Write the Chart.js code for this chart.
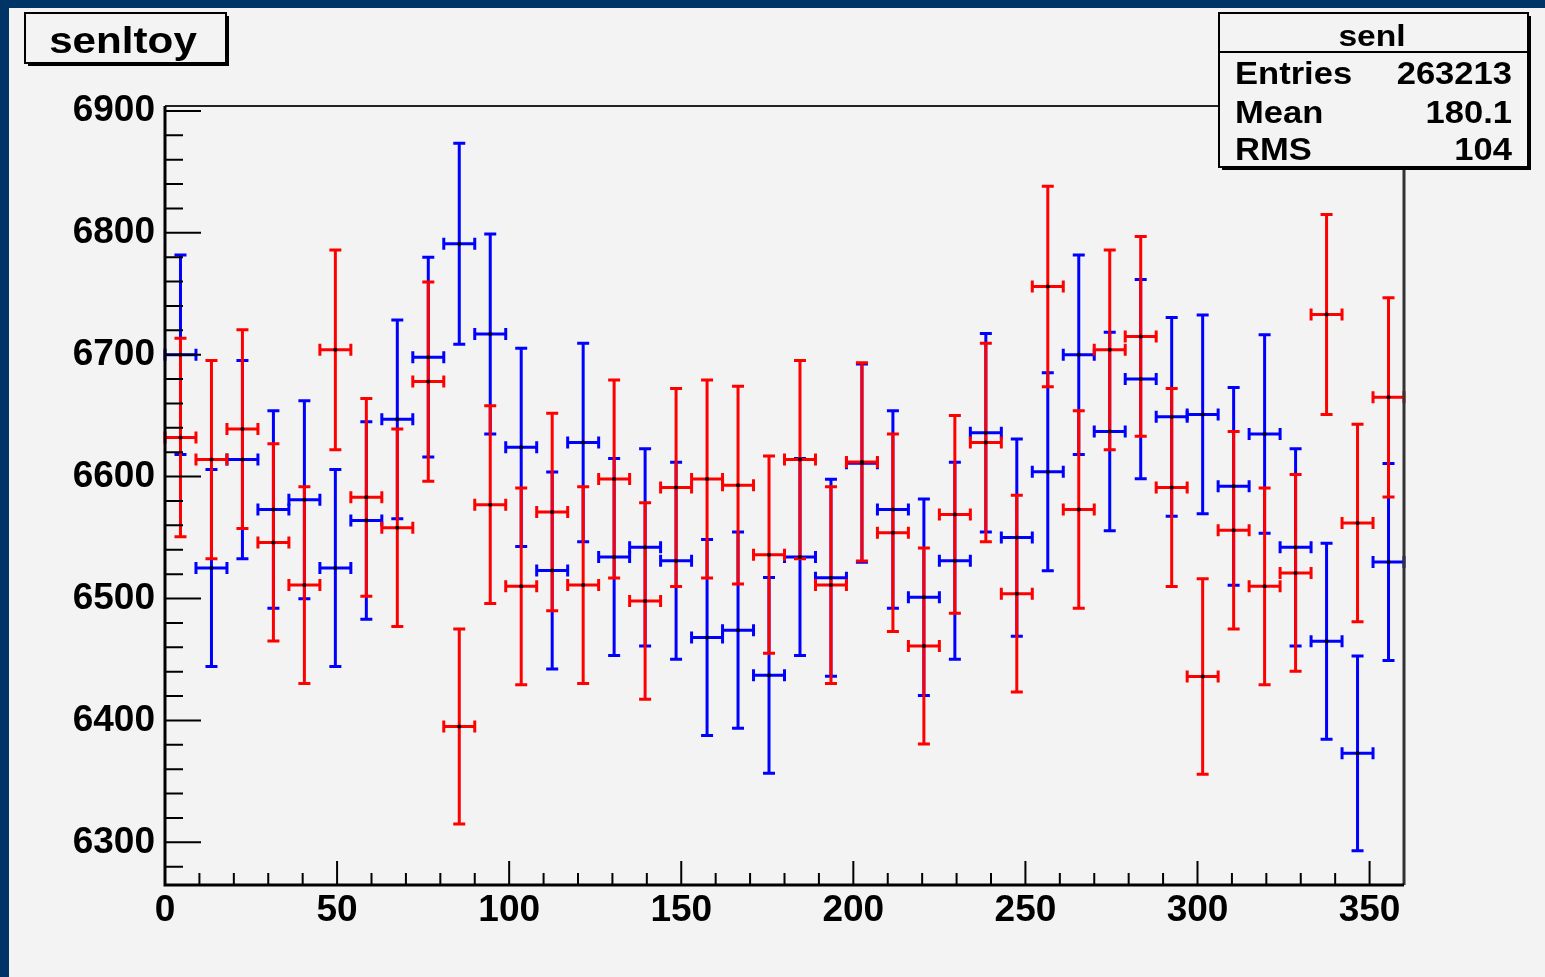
<!DOCTYPE html>
<html>
<head>
<meta charset="utf-8">
<script src="https://cdn.jsdelivr.net/npm/chart.js@4.4.1/dist/chart.umd.min.js"></script>
<style>
  html, body { margin:0; padding:0; background:#003366; overflow:hidden; }
  #wrap { position:absolute; left:0; top:0; width:1545px; height:977px; }
</style>
</head>
<body>
<div id="wrap"><canvas id="senl-plot"></canvas></div>
<script>
'use strict';

// bin centres (40 bins of width 9 from 0 to 360)
const binCenters = [
  4.5, 13.5, 22.5, 31.5, 40.5, 49.5, 58.5, 67.5, 76.5, 85.5,
  94.5, 103.5, 112.5, 121.5, 130.5, 139.5, 148.5, 157.5, 166.5, 175.5,
  184.5, 193.5, 202.5, 211.5, 220.5, 229.5, 238.5, 247.5, 256.5, 265.5,
  274.5, 283.5, 292.5, 301.5, 310.5, 319.5, 328.5, 337.5, 346.5, 355.5
];
const binWidth = 9;

// blue histogram (senl)
const blueCounts = [
  6700, 6525, 6614, 6573, 6581, 6525, 6564, 6647, 6698, 6791,
  6717, 6624, 6523, 6628, 6534, 6542, 6531, 6468, 6474, 6437,
  6534, 6517, 6611, 6573, 6501, 6531, 6636, 6550, 6604, 6700,
  6637, 6680, 6649, 6651, 6592, 6635, 6542, 6465, 6373, 6530
];

// red histogram (senltoy)
const redCounts = [
  6632, 6614, 6639, 6546, 6511, 6704, 6583, 6558, 6678, 6395,
  6577, 6510, 6571, 6511, 6598, 6498, 6591, 6598, 6593, 6536,
  6614, 6511, 6612, 6554, 6461, 6569, 6628, 6504, 6756, 6573,
  6704, 6715, 6591, 6436, 6556, 6510, 6521, 6733, 6562, 6665
];

const yTickLabels = [6300, 6400, 6500, 6600, 6700, 6800, 6900];
const xTickLabels = [0, 50, 100, 150, 200, 250, 300, 350];

const statsTitle = 'senl';
const statsRows = [['Entries', '263213'], ['Mean', '180.1'], ['RMS', '104']];
const histTitle = 'senltoy';

const FONT = '"Liberation Sans", Arial, Helvetica, sans-serif';

function drawText(ctx, txt, x, y, size, align, sx){
  ctx.save();
  ctx.font = 'bold ' + size + 'px ' + FONT;
  ctx.fillStyle = '#000';
  ctx.textBaseline = 'alphabetic';
  ctx.translate(x, y);
  ctx.scale(sx, 1);
  ctx.textAlign = align;
  ctx.fillText(txt, 0, 0);
  ctx.restore();
}

function drawPave(ctx, x, y, w, h){
  ctx.save();
  ctx.fillStyle = '#000';
  ctx.fillRect(x + 3, y + 3, w, h);
  ctx.fillStyle = '#f3f3f3';
  ctx.fillRect(x, y, w, h);
  ctx.strokeStyle = '#000';
  ctx.lineWidth = 2;
  ctx.strokeRect(x, y, w, h);
  ctx.restore();
}

const rootStyle = {
  id:'rootStyle',
  beforeDraw(chart){
    const ctx = chart.ctx;
    ctx.save();
    ctx.fillStyle = '#003366';
    ctx.fillRect(0, 0, chart.width, chart.height);
    ctx.fillStyle = '#f3f3f3';
    ctx.fillRect(9, 8, chart.width - 9, chart.height - 8);
    ctx.restore();
  },
  beforeDatasetsDraw(chart){
    // error crosses, blue first then red on top
    const ctx = chart.ctx;
    const xs = chart.scales.x, ys = chart.scales.y;
    const cap = 6;
    chart.data.datasets.forEach((ds)=>{
      ctx.save();
      ctx.strokeStyle = ds.errColor;
      ctx.lineWidth = 3;
      ds.data.forEach((p)=>{
        const err = Math.sqrt(p.y); // poisson error of the bin
        const px = xs.getPixelForValue(p.x);
        const py = ys.getPixelForValue(p.y);
        const x0 = xs.getPixelForValue(p.x - binWidth / 2);
        const x1 = xs.getPixelForValue(p.x + binWidth / 2);
        const y0 = ys.getPixelForValue(p.y - err);
        const y1 = ys.getPixelForValue(p.y + err);
        ctx.beginPath();
        ctx.moveTo(px, y0); ctx.lineTo(px, y1);
        ctx.moveTo(px - cap, y0); ctx.lineTo(px + cap, y0);
        ctx.moveTo(px - cap, y1); ctx.lineTo(px + cap, y1);
        ctx.moveTo(x0, py); ctx.lineTo(x1, py);
        ctx.moveTo(x0, py - cap); ctx.lineTo(x0, py + cap);
        ctx.moveTo(x1, py - cap); ctx.lineTo(x1, py + cap);
        ctx.stroke();
      });
      ctx.restore();
    });
  },
  afterDraw(chart){
    const ctx = chart.ctx;
    const a = chart.chartArea;
    const xs = chart.scales.x, ys = chart.scales.y;
    ctx.save();
    // frame
    ctx.strokeStyle = '#222';
    ctx.lineWidth = 2;
    ctx.beginPath();
    ctx.moveTo(a.left, a.top); ctx.lineTo(a.right, a.top);
    ctx.stroke();
    ctx.lineWidth = 3;
    ctx.strokeStyle = '#333';
    ctx.beginPath();
    ctx.moveTo(a.right, a.top); ctx.lineTo(a.right, a.bottom);
    ctx.stroke();
    ctx.strokeStyle = '#000';
    ctx.lineWidth = 3;
    ctx.beginPath();
    ctx.moveTo(a.left, a.top); ctx.lineTo(a.left, a.bottom); ctx.lineTo(a.right, a.bottom);
    ctx.stroke();

    // inward ticks
    ctx.lineWidth = 2;
    ctx.beginPath();
    for (let v = 6280; v <= ys.max; v += 20){
      const y = ys.getPixelForValue(v);
      const len = (v % 100 === 0) ? 36 : 18;
      ctx.moveTo(a.left, y); ctx.lineTo(a.left + len, y);
    }
    for (let v = 10; v < xs.max; v += 10){
      const x = xs.getPixelForValue(v);
      const len = (v % 50 === 0) ? 24 : 12;
      ctx.moveTo(x, a.bottom); ctx.lineTo(x, a.bottom - len);
    }
    ctx.stroke();
    ctx.restore();

    // title box
    drawPave(ctx, 25, 13, 201, 50);
    drawText(ctx, histTitle, 123, 53, 37, 'center', 1.14);

    // stats box
    drawPave(ctx, 1219, 13, 309, 154);
    ctx.save();
    ctx.strokeStyle = '#000';
    ctx.lineWidth = 2;
    ctx.beginPath();
    ctx.moveTo(1219, 52); ctx.lineTo(1528, 52);
    ctx.stroke();
    ctx.restore();
    drawText(ctx, statsTitle, 1372, 46, 30, 'center', 1.12);
    const baselines = [84, 123, 160];
    statsRows.forEach((row, i)=>{
      drawText(ctx, row[0], 1235, baselines[i], 32, 'left', 1.08);
      drawText(ctx, row[1], 1512, baselines[i], 32, 'right', 1.08);
    });
  }
};

let chart = null;

function makePlot(){
  const canvas = document.querySelector('#senl-plot');
  chart = new Chart(canvas, {
    type:'scatter',
    data:{
      datasets:[
        {
          label:'senl',
          data:binCenters.map((x, i)=>({x:x, y:blueCounts[i]})),
          errColor:'#0000ff',
          pointRadius:2,
          pointBackgroundColor:'#000',
          pointBorderWidth:0,
          showLine:false
        },
        {
          label:'senltoy',
          data:binCenters.map((x, i)=>({x:x, y:redCounts[i]})),
          errColor:'#ff0000',
          pointRadius:2,
          pointBackgroundColor:'#000',
          pointBorderWidth:0,
          showLine:false
        }
      ]
    },
    options:{
      responsive:true,
      maintainAspectRatio:false,
      animation:false,
      devicePixelRatio:1,
      layout:{padding:{top:106, right:141, left:0, bottom:0}},
      plugins:{legend:{display:false}, tooltip:{enabled:false}, title:{display:false}},
      scales:{
        x:{
          type:'linear',
          min:0, max:360,
          grid:{display:false, drawTicks:false},
          border:{display:false},
          ticks:{
            stepSize:50,
            padding:4,
            color:'#000',
            font:{family:FONT, weight:'bold', size:37},
            callback:(v)=>String(v)
          },
          afterBuildTicks:(scale)=>{
            scale.ticks = xTickLabels.map((v)=>({value:v}));
          },
          afterFit:(scale)=>{ scale.height = 92; }
        },
        y:{
          type:'linear',
          min:6265, max:6904,
          grid:{display:false, drawTicks:false},
          border:{display:false},
          ticks:{
            stepSize:100,
            padding:10,
            color:'#000',
            font:{family:FONT, weight:'bold', size:37},
            callback:(v)=>String(v)
          },
          afterBuildTicks:(scale)=>{
            scale.ticks = yTickLabels.map((v)=>({value:v}));
          },
          afterFit:(scale)=>{ scale.width = 165; }
        }
      }
    },
    plugins:[rootStyle]
  });
}

window.addEventListener('load', ()=>{
  makePlot();
});
</script>
</body>
</html>
